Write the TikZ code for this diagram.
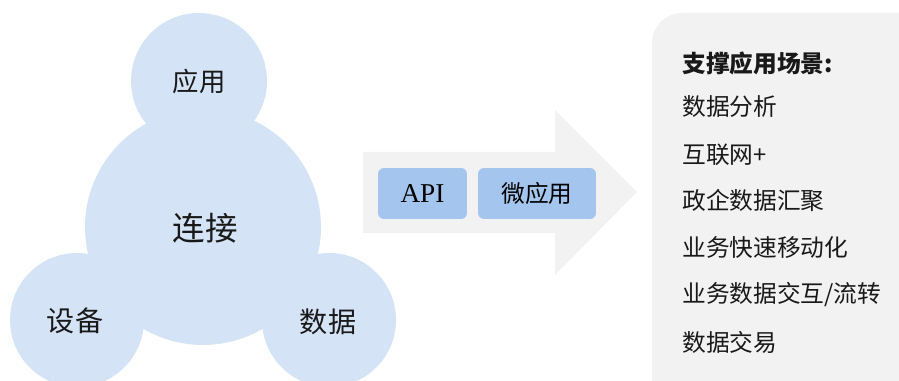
\documentclass[tikz,border=0pt]{standalone}
\usepackage{fontspec}
\setmainfont{Liberation Serif}
\newfontfamily\cjk{Noto Sans CJK SC}
\usepackage{tikz}
\usetikzlibrary{positioning,calc}
\definecolor{bubble}{HTML}{D4E3F5}
\definecolor{chip}{HTML}{A4C5ED}
\definecolor{panel}{HTML}{F2F2F2}

\begin{document}
\begin{tikzpicture}[
    x=0.02cm, y=-0.02cm,
    % Stili per i cerchi
    bubblenode/.style={circle, fill=bubble, inner sep=0pt},
    bubbletext/.style={font=\cjk\fontsize{15pt}{18pt}\selectfont, text=black!90},
    % Stili per i blocchi
    chipnode/.style={rectangle, rounded corners=0.12cm, fill=chip, minimum height=1.02cm, inner sep=0pt, font=\fontsize{15.5pt}{18pt}\selectfont},
    % Stili per il testo
    listtext/.style={anchor=west, inner sep=0pt, font=\cjk\fontsize{13.5pt}{16pt}\selectfont, text=black!90}
]
\useasboundingbox (0,0) rectangle (899,381);

% === CERCHI ===
\node[bubblenode, minimum size=2.72cm] (app) at (199,81) {};
\node[bubblenode, minimum size=2.68cm] (dev) at (77,320) {};
\node[bubblenode, minimum size=2.68cm] (data) at (329,320) {};
\node[bubblenode, minimum size=4.72cm] (conn) at (203,227) {};
\node[bubbletext] at (app) {应用};
\node[bubbletext, font=\cjk\fontsize{16pt}{19pt}\selectfont] at (75,321) {设备};
\node[bubbletext, font=\cjk\fontsize{16pt}{19pt}\selectfont] at (328,322) {数据};
\node[bubbletext, font=\cjk\fontsize{18.5pt}{22pt}\selectfont] at (205,228) {连接};

% === FRECCIA ===
\fill[panel] (363,152) -- (555,152) -- (555,110) -- (637,192)
    -- (555,275) -- (555,233) -- (363,233) -- cycle;
\node[chipnode, minimum width=1.78cm] (api) at (422.5,193.5) {API};
\node[chipnode, minimum width=2.36cm, font=\cjk\fontsize{13.5pt}{16pt}\selectfont] (micro) at (537,193.5) {微应用};

% === SCENARI ===
\fill[panel, rounded corners=0.6cm] (652,13) rectangle (960,430);
\node[listtext, font=\cjk\bfseries\fontsize{13.5pt}{16pt}\selectfont] (title) at (682,63) {支撑应用场景:};
\node[listtext] (s1) at (682,107) {数据分析};
\node[listtext] (s2) at (682,155) {互联网+};
\node[listtext] (s3) at (682,201) {政企数据汇聚};
\node[listtext] (s4) at (682,248) {业务快速移动化};
\node[listtext] (s5) at (682,295) {业务数据交互/流转};
\node[listtext] (s6) at (682,342) {数据交易};

\end{tikzpicture}
\end{document}
